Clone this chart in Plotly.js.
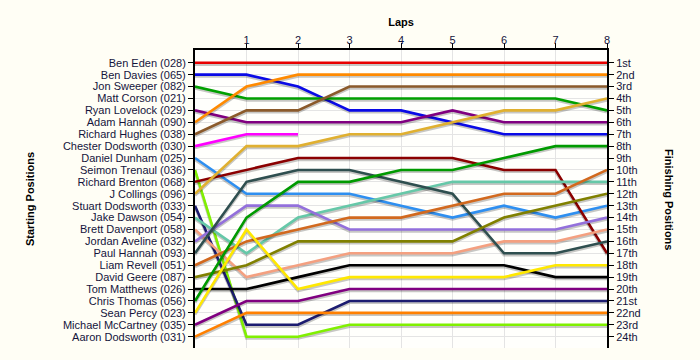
<!DOCTYPE html>
<html>
<head>
<meta charset="utf-8">
<script src="https://cdn.plot.ly/plotly-3.0.1.min.js"></script>
<style>html,body{margin:0;padding:0;background:#fffef5;}#chart{width:700px;height:360px;}</style>
</head>
<body>
<div id="chart"></div>
<script>
// Laps (x values)
const laps = [0, 1, 2, 3, 4, 5, 6, 7, 8];

// Starting grid (left axis tick labels, position 1..24)
const drivers = [
  "Ben Eden (028)", "Ben Davies (065)", "Jon Sweeper (082)", "Matt Corson (021)",
  "Ryan Lovelock (029)", "Adam Hannah (090)", "Richard Hughes (038)", "Chester Dodsworth (030)",
  "Daniel Dunham (025)", "Seimon Trenaul (036)", "Richard Brenton (068)", "J Collings (096)",
  "Stuart Dodsworth (033)", "Jake Dawson (054)", "Brett Davenport (058)", "Jordan Aveline (032)",
  "Paul Hannah (093)", "Liam Revell (051)", "David Geere (087)", "Tom Matthews (026)",
  "Chris Thomas (056)", "Sean Percy (023)", "Michael McCartney (035)", "Aaron Dodsworth (031)"
];

// Finishing position labels (right axis)
const finishLabels = [
  "1st", "2nd", "3rd", "4th", "5th", "6th", "7th", "8th", "9th", "10th", "11th", "12th",
  "13th", "14th", "15th", "16th", "17th", "18th", "19th", "20th", "21st", "22nd", "23rd", "24th"
];

// Position per lap, one array per driver
const benEden          = [1, 1, 1, 1, 1, 1, 1, 1, 1];
const benDavies        = [2, 2, 3, 5, 5, 6, 7, 7, 7];
const jonSweeper       = [3, 4, 4, 4, 4, 4, 4, 4, 5];
const mattCorson       = [];
const ryanLovelock     = [5, 6, 6, 6, 6, 5, 6, 6, 6];
const adamHannah       = [6, 3, 2, 2, 2, 2, 2, 2, 2];
const richardHughes    = [7, 5, 5, 3, 3, 3, 3, 3, 3];
const chesterDodsworth = [8, 7, 7];
const danielDunham     = [9, 12, 12, 12, 13, 14, 13, 14, 13];
const seimonTrenaul    = [10, 24, 24, 23, 23, 23, 23, 23, 23];
const richardBrenton   = [11, 10, 9, 9, 9, 9, 10, 10, 17];
const jCollings        = [12, 8, 8, 7, 7, 6, 5, 5, 4];
const stuartDodsworth  = [13, 23, 23, 21, 21, 21, 21, 21, 21];
const jakeDawson       = [14, 17, 14, 13, 12, 11, 11, 11, 11];
const brettDavenport   = [15, 19, 18, 17, 17, 17, 16, 16, 15];
const jordanAveline    = [16, 13, 13, 15, 15, 15, 15, 15, 14];
const paulHannah       = [17, 11, 10, 10, 11, 12, 17, 17, 16];
const liamRevell       = [18, 16, 15, 14, 14, 13, 12, 12, 10];
const davidGeere       = [19, 18, 16, 16, 16, 16, 14, 13, 12];
const tomMatthews      = [20, 20, 19, 18, 18, 18, 18, 19, 19];
const chrisThomas      = [21, 14, 11, 11, 10, 10, 9, 8, 8];
const seanPercy        = [22, 15, 20, 19, 19, 19, 19, 18, 18];
const michaelMcCartney = [23, 21, 21, 20, 20, 20, 20, 20, 20];
const aaronDodsworth   = [24, 22, 22, 22, 22, 22, 22, 22, 22];

const series = [
  benEden, benDavies, jonSweeper, mattCorson, ryanLovelock, adamHannah, richardHughes,
  chesterDodsworth, danielDunham, seimonTrenaul, richardBrenton, jCollings, stuartDodsworth,
  jakeDawson, brettDavenport, jordanAveline, paulHannah, liamRevell, davidGeere, tomMatthews,
  chrisThomas, seanPercy, michaelMcCartney, aaronDodsworth
];

const colors = [
  "#e80000", "#0a0ae6", "#00a000", "#9a9a9a", "#800080", "#ff8a00", "#8b5a2b", "#ff00ff",
  "#2e8ff0", "#80f000", "#8b0000", "#e0b030", "#1c1c70", "#66c8a8", "#f4a080", "#9370db",
  "#2f4f4f", "#d2691e", "#808000", "#000000", "#009a00", "#ffe800", "#800080", "#ff8000"
];

const traces = [];
series.forEach(function (s, i) {
  if (!s.length) return;
  const xs = laps.slice(0, s.length);
  traces.push({
    x: xs, y: s.map(function (v) { return v + 0.14; }),
    type: "scatter", mode: "lines", hoverinfo: "skip", showlegend: false,
    line: { color: "rgba(0,0,0,0.22)", width: 3 }
  });
  traces.push({
    x: xs, y: s, name: drivers[i],
    type: "scatter", mode: "lines", showlegend: false,
    line: { color: colors[i], width: 2.6 }
  });
});
// anchor trace for right axis
traces.push({ x: [null], y: [null], yaxis: "y2", type: "scatter", mode: "lines", showlegend: false, hoverinfo: "skip" });

const positions = drivers.map(function (d, i) { return i + 1; });
const yRange = [24.95, -0.07];
const tickFont = { family: "Liberation Sans, Arial, sans-serif", size: 11, color: "#14143c" };
const titleFont = { family: "Liberation Sans, Arial, sans-serif", size: 11, color: "#000000", weight: "bold" };

const layout = {
  width: 700, height: 360,
  paper_bgcolor: "#fffef5",
  plot_bgcolor: "#fffffc",
  margin: { l: 195, r: 93, t: 50, b: 12, pad: 0 },
  showlegend: false,
  xaxis: {
    side: "top", range: [0, 8], tickvals: [1, 2, 3, 4, 5, 6, 7, 8],
    showgrid: true, gridcolor: "#e4e4e4", gridwidth: 1,
    zeroline: false, showline: true, linecolor: "#000", linewidth: 2,
    ticks: "outside", ticklen: 5, tickcolor: "#000", tickwidth: 1,
    ticklabelstandoff: -5,
    tickfont: tickFont,
    title: { text: "<b>Laps</b>", font: titleFont, standoff: 5 }
  },
  yaxis: {
    range: yRange, tickvals: positions, ticktext: drivers,
    showgrid: true, gridcolor: "#e4e4e4", gridwidth: 1,
    zeroline: false, showline: true, linecolor: "#000", linewidth: 2,
    ticks: "outside", ticklen: 5, tickcolor: "#000", tickwidth: 1,
    tickfont: tickFont,
    title: { text: "<b>Starting Positions</b>", font: titleFont, standoff: 26 }
  },
  yaxis2: {
    overlaying: "y", side: "right", anchor: "x",
    range: yRange, tickvals: positions, ticktext: finishLabels,
    showgrid: false, zeroline: false, showline: true, linecolor: "#000", linewidth: 2,
    ticks: "outside", ticklen: 5, tickcolor: "#000", tickwidth: 1,
    tickfont: tickFont
  },
  annotations: [{
    text: "<b>Finishing Positions</b>", textangle: 90,
    xref: "paper", yref: "paper", x: 1, xshift: 62, y: 0.5,
    xanchor: "center", yanchor: "middle", showarrow: false,
    font: titleFont
  }]
};

Plotly.newPlot("chart", traces, layout, { displayModeBar: false, staticPlot: true });
</script>
</body>
</html>
